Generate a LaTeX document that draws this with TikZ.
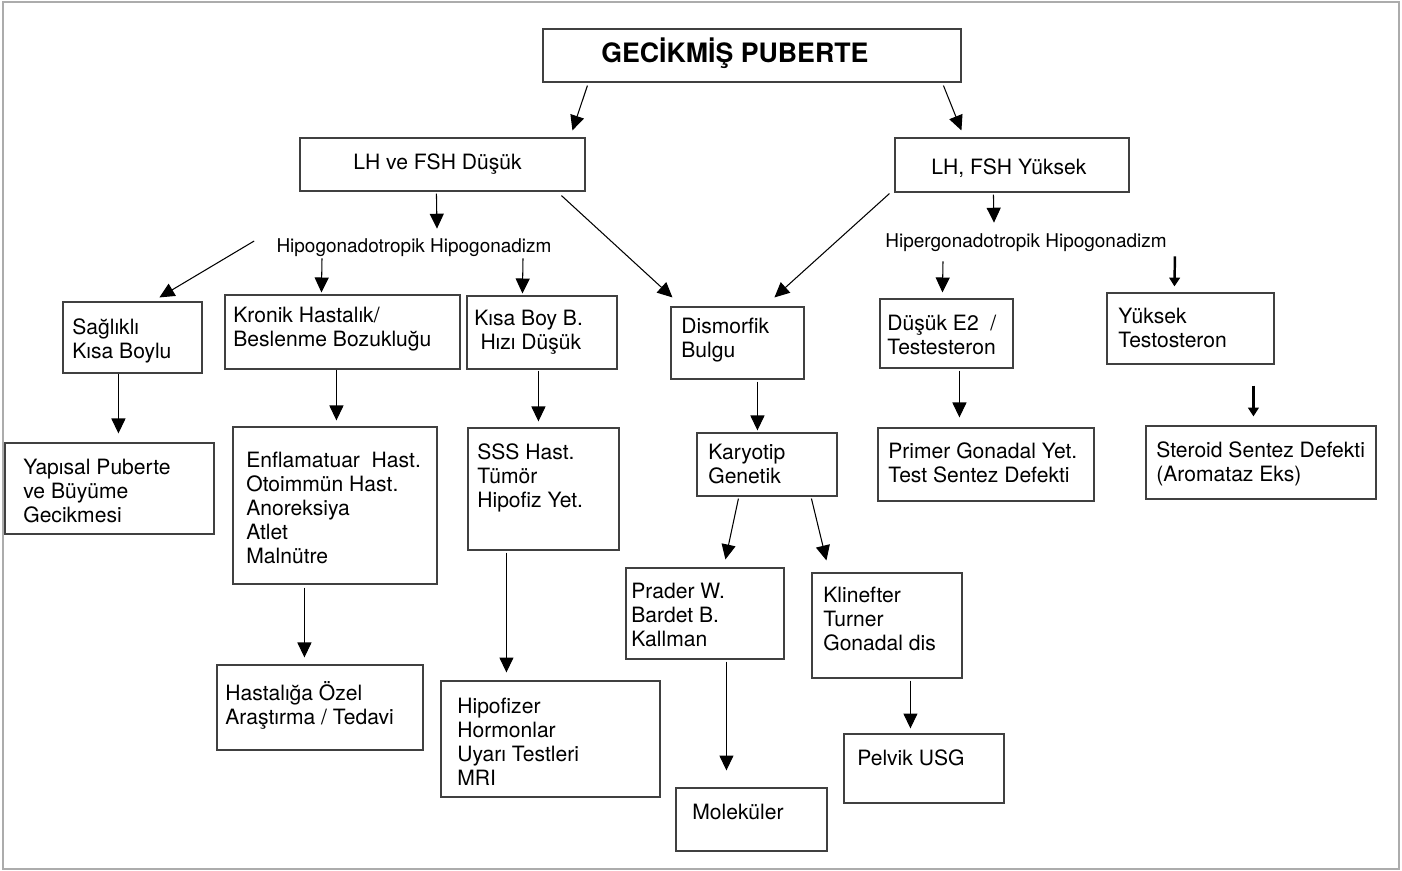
\documentclass[tikz,border=0pt]{standalone}
\usepackage{fontspec}
\setmainfont{TeX Gyre Heros}
\usetikzlibrary{arrows.meta,fit}

\begin{document}
\begin{tikzpicture}[x=0.02cm, y=-0.02cm,
	kutu/.style={draw=black!75, line width=0.65pt, inner sep=0pt, fit={#1}},
	yazi/.style={anchor=west, align=left, inner sep=0pt, font=\fontsize{12}{13.66}\selectfont},
	ara/.style={inner sep=0pt, font=\fontsize{10.8}{13}\selectfont},
	ok/.style={-{Triangle[length=8.5pt,width=8pt]}, line width=0.6pt},
	kalin/.style={-{Triangle[length=5pt,width=6pt]}, line width=1.4pt}]
	\useasboundingbox (0,0) rectangle (1402,871);
	\draw[gray!65, line width=1pt] (3,2) rectangle (1399,869);

	% ust kisim
	\node[kutu={(543,29) (961,82)}] (baslik) {};
	\node[yazi, font=\bfseries\fontsize{15.2}{18}\selectfont] (baslik-y) at (601,53) {GECİKMİŞ PUBERTE};
	\node[kutu={(300,138) (585,191)}] (lhdusuk) {};
	\node[yazi] (lhdusuk-y) at (353,164) {LH ve FSH Düşük};
	\node[kutu={(895,138) (1129,192)}] (lhyuksek) {};
	\node[yazi] (lhyuksek-y) at (931,168) {LH, FSH Yüksek};
	\node[ara] (hipo) at (414,248) {Hipogonadotropik Hipogonadizm};
	\node[ara] (hiper) at (1026,243) {Hipergonadotropik Hipogonadizm};

	% ikinci sira
	\node[kutu={(63,302) (202,373)}] (saglikli) {};
	\node[yazi] (saglikli-y) at (72,341) {Sağlıklı\\Kısa Boylu};
	\node[kutu={(225,295) (460,369)}] (kronik) {};
	\node[yazi] (kronik-y) at (233,329) {Kronik Hastalık/\\Beslenme Bozukluğu};
	\node[kutu={(467,296) (617,369)}] (kisaboy) {};
	\node[yazi] (kisaboy-y) at (474,332) {Kısa Boy B.\\\hspace*{3.5pt}Hızı Düşük};
	\node[kutu={(671,307) (804,379)}] (dismorfik) {};
	\node[yazi] (dismorfik-y) at (681,340) {Dismorfik\\Bulgu};
	\node[kutu={(880,299) (1013,368)}] (dusuke) {};
	\node[yazi] (dusuke-y) at (887,335) {Düşük E2~~/\\Testesteron};
	\node[kutu={(1107,293) (1274,364)}] (yuksekt) {};
	\node[yazi] (yuksekt-y) at (1118,328) {Yüksek\\Testosteron};

	% ucuncu sira
	\node[kutu={(5,443) (214,534)}] (yapisal) {};
	\node[yazi] (yapisal-y) at (23,491) {Yapısal Puberte\\ve Büyüme\\Gecikmesi};
	\node[kutu={(233,427) (437,584)}] (enflamatuar) {};
	\node[yazi] (enflamatuar-y) at (246,508) {Enflamatuar~~Hast.\\Otoimmün Hast.\\Anoreksiya\\Atlet\\Malnütre};
	\node[kutu={(468,428) (619,550)}] (sss) {};
	\node[yazi] (sss-y) at (477,478) {SSS Hast.\\Tümör\\Hipofiz Yet.};
	\node[kutu={(697,433) (837,496)}] (karyotip) {};
	\node[yazi] (karyotip-y) at (708,464) {Karyotip\\Genetik};
	\node[kutu={(878,428) (1094,501)}] (primer) {};
	\node[yazi] (primer-y) at (888,463) {Primer Gonadal Yet.\\Test Sentez Defekti};
	\node[kutu={(1146,426) (1376,499)}] (steroid) {};
	\node[yazi] (steroid-y) at (1156,464) {Steroid Sentez Defekti\\(Aromataz Eks)};

	% alt kisim
	\node[kutu={(626,568) (784,659)}] (prader) {};
	\node[yazi] (prader-y) at (631,615) {Prader W.\\Bardet B.\\Kallman};
	\node[kutu={(812,573) (962,678)}] (klinefter) {};
	\node[yazi] (klinefter-y) at (823,619) {Klinefter\\Turner\\Gonadal dis};
	\node[kutu={(217,665) (423,750)}] (hastaliga) {};
	\node[yazi] (hastaliga-y) at (225,705) {Hastalığa Özel\\Araştırma / Tedavi};
	\node[kutu={(441,681) (660,797)}] (hipofizer) {};
	\node[yazi] (hipofizer-y) at (457,742) {Hipofizer\\Hormonlar\\Uyarı Testleri\\MRI};
	\node[kutu={(676,788) (827,851)}] (molekuler) {};
	\node[yazi] (molekuler-y) at (692,812) {Moleküler};
	\node[kutu={(844,734) (1004,803)}] (pelvik) {};
	\node[yazi] (pelvik-y) at (857,758) {Pelvik USG};

	% oklar
	\draw[ok] ([shift={(45,3)}]baslik.south west) -- ([shift={(273,-7)}]lhdusuk.north west);
	\draw[ok] ([shift={(401,3)}]baslik.south west) -- ([shift={(67,-7)}]lhyuksek.north west);
	\draw[ok] ([shift={(137,2)}]lhdusuk.south west) -- ([shift={(23,-10)}]hipo.north);
	\draw[ok] ([shift={(-22,-7)}]hipo.west) -- ([shift={(97,-4)}]saglikli.north west);
	\draw[ok] ([shift={(-92,1)}]hipo.south) -- ([shift={(97,-2)}]kronik.north west);
	\draw[ok] ([shift={(109,1)}]hipo.south) -- ([shift={(56,-2)}]kisaboy.north west);
	\draw[ok] ([shift={(262,4)}]lhdusuk.south west) -- ([shift={(2,-9)}]dismorfik.north west);
	\draw[ok] ([shift={(-5,1)}]lhyuksek.south west) -- ([shift={(104,-9)}]dismorfik.north west);
	\draw[ok] ([shift={(99,2)}]lhyuksek.south west) -- ([shift={(-32,-11)}]hiper.north);
	\draw[ok] ([shift={(-83,9)}]hiper.south) -- ([shift={(63,-6)}]dusuke.north west);
	\draw[kalin] ([shift={(8,4)}]hiper.south east) -- ([shift={(68,-6)}]yuksekt.north west);

	\draw[ok] ([shift={(56,0)}]saglikli.south west) -- ([shift={(114,-9)}]yapisal.north west);
	\draw[ok] ([shift={(112,0)}]kronik.south west) -- ([shift={(104,-6)}]enflamatuar.north west);
	\draw[ok] ([shift={(72,1)}]kisaboy.south west) -- ([shift={(71,-6)}]sss.north west);
	\draw[ok] ([shift={(87,2)}]dismorfik.south west) -- ([shift={(61,-2)}]karyotip.north west);
	\draw[ok] ([shift={(80,2)}]dusuke.south west) -- ([shift={(82,-10)}]primer.north west);
	\draw[kalin] ([shift={(147,21)}]yuksekt.south west) -- ([shift={(108,-9)}]steroid.north west);

	\draw[ok] ([shift={(42,2)}]karyotip.south west) -- ([shift={(100,-8)}]prader.north west);
	\draw[ok] ([shift={(115,2)}]karyotip.south west) -- ([shift={(15,-12)}]klinefter.north west);
	\draw[ok] ([shift={(72,3)}]enflamatuar.south west) -- ([shift={(88,-7)}]hastaliga.north west);
	\draw[ok] ([shift={(39,2)}]sss.south west) -- ([shift={(66,-8)}]hipofizer.north west);
	\draw[ok] ([shift={(101,2)}]prader.south west) -- ([shift={(51,-17)}]molekuler.north west);
	\draw[ok] ([shift={(99,2)}]klinefter.south west) -- ([shift={(67,-5)}]pelvik.north west);
\end{tikzpicture}
\end{document}
